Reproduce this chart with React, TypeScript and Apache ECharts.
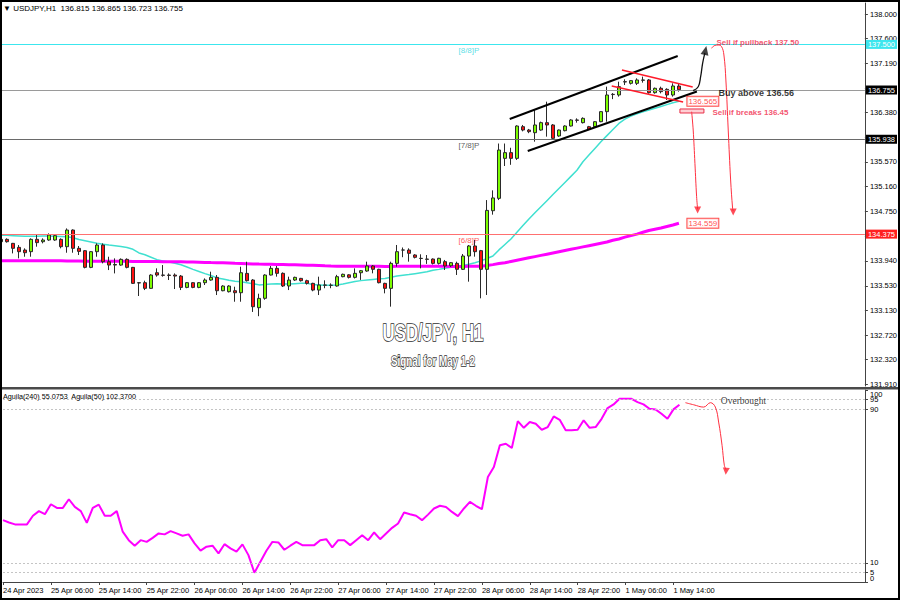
import React, { useEffect, useRef } from 'react';
import * as echarts from 'echarts';

const FONT = '"Liberation Sans", Arial, Helvetica, sans-serif';

const symbolName = 'USDJPY,H1';
const titleText = 'USD/JPY, H1';
const subtitleText = 'Signal for May 1-2';
const indicatorLegend = 'Aguila(240) 55.0753  Aguila(50) 102.3700';

const timeLabels = ['24 Apr 2023', '25 Apr 06:00', '25 Apr 14:00', '25 Apr 22:00', '26 Apr 06:00', '26 Apr 14:00', '26 Apr 22:00', '27 Apr 06:00', '27 Apr 14:00', '27 Apr 22:00', '28 Apr 06:00', '28 Apr 14:00', '28 Apr 22:00', '1 May 06:00', '1 May 14:00'];
const barsPerLabel = 8;
const priceTicks = [138.0, 137.6, 137.19, 136.78, 136.38, 135.97, 135.57, 135.16, 134.75, 134.34, 133.94, 133.53, 133.13, 132.72, 132.32, 131.91];
const indicatorTicks = [0, 5, 10, 90, 95, 100];
const indicatorLevels = [95, 90, 10, 5];

// [open, close, low, high]
const ohlc: number[][] = [
  [134.255, 134.294, 134.24, 134.31], [134.294, 134.255, 134.24, 134.31], [134.228, 134.146, 134.063, 134.235], [134.162, 134.091, 133.981, 134.2],
  [134.118, 134.074, 134.008, 134.146], [134.091, 134.294, 134.008, 134.31], [134.294, 134.24, 134.173, 134.365], [134.255, 134.283, 134.228, 134.31],
  [134.283, 134.365, 134.27, 134.392], [134.283, 134.354, 134.27, 134.38], [134.294, 134.173, 134.146, 134.31], [134.173, 134.447, 134.074, 134.474],
  [134.447, 134.146, 134.074, 134.458], [134.146, 134.096, 134.036, 134.184], [134.107, 133.833, 133.817, 134.118], [133.833, 134.091, 133.82, 134.1],
  [134.091, 134.2, 134.008, 134.228], [134.2, 133.926, 133.899, 134.228], [133.926, 133.871, 133.789, 134.008], [133.88, 133.871, 133.734, 133.981],
  [133.871, 133.965, 133.86, 133.98], [133.965, 133.833, 133.817, 133.981], [133.833, 133.57, 133.56, 133.84], [133.581, 133.576, 133.362, 133.59],
  [133.581, 133.488, 133.46, 133.614], [133.488, 133.707, 133.48, 133.72], [133.745, 133.707, 133.68, 133.817], [133.707, 133.702, 133.68, 133.871],
  [133.707, 133.7, 133.625, 133.734], [133.707, 133.69, 133.477, 133.734], [133.69, 133.504, 133.46, 133.707], [133.504, 133.581, 133.49, 133.59],
  [133.581, 133.504, 133.49, 133.59], [133.504, 133.581, 133.49, 133.59], [133.581, 133.625, 133.543, 133.652], [133.625, 133.669, 133.614, 133.762],
  [133.669, 133.449, 133.378, 133.707], [133.449, 133.526, 133.44, 133.54], [133.433, 133.526, 133.42, 133.54], [133.449, 133.416, 133.268, 133.515],
  [133.416, 133.745, 133.268, 133.844], [133.734, 133.614, 133.6, 133.926], [133.625, 133.186, 133.1, 133.64], [133.17, 133.323, 133.03, 133.4],
  [133.324, 133.707, 133.3, 133.72], [133.707, 133.817, 133.7, 133.856], [133.817, 133.735, 133.68, 133.856], [133.735, 133.527, 133.51, 133.75],
  [133.527, 133.625, 133.46, 133.68], [133.625, 133.669, 133.61, 133.68], [133.652, 133.614, 133.6, 133.66], [133.614, 133.57, 133.55, 133.63],
  [133.57, 133.46, 133.44, 133.58], [133.46, 133.543, 133.378, 133.68], [133.543, 133.54, 133.49, 133.62], [133.54, 133.537, 133.49, 133.57],
  [133.527, 133.68, 133.516, 133.71], [133.68, 133.719, 133.67, 133.73], [133.71, 133.669, 133.65, 133.72], [133.669, 133.735, 133.65, 133.817],
  [133.745, 133.778, 133.627, 133.79], [133.773, 133.856, 133.76, 133.927], [133.856, 133.801, 133.735, 133.872], [133.801, 133.581, 133.57, 133.81],
  [133.57, 133.488, 133.406, 133.58], [133.488, 133.899, 133.187, 133.927], [133.899, 134.091, 133.845, 134.201], [134.118, 134.118, 134.0, 134.16],
  [134.118, 134.064, 133.927, 134.146], [134.037, 133.998, 133.98, 134.05], [133.982, 133.979, 133.817, 134.048], [133.97, 133.965, 133.89, 134.036],
  [133.97, 133.899, 133.88, 133.98], [133.899, 133.982, 133.88, 133.99], [133.927, 133.856, 133.79, 133.955], [133.86, 133.91, 133.84, 133.92],
  [133.899, 133.801, 133.708, 133.927], [133.801, 134.02, 133.79, 134.053], [134.02, 134.185, 133.598, 134.201], [134.185, 134.091, 134.009, 134.283],
  [134.108, 133.801, 133.324, 134.12], [133.801, 134.77, 133.379, 134.94], [134.765, 134.975, 134.7, 135.1], [134.968, 135.763, 134.94, 135.87],
  [135.626, 135.72, 135.5, 135.87], [135.72, 135.626, 135.52, 135.8], [135.626, 136.158, 135.6, 136.17], [136.147, 136.092, 136.07, 136.175],
  [136.092, 136.065, 136.04, 136.11], [136.048, 136.175, 135.9, 136.421], [136.092, 136.213, 136.08, 136.23], [136.213, 136.175, 135.983, 136.558],
  [136.175, 135.955, 135.94, 136.19], [135.994, 136.092, 135.98, 136.1], [136.081, 136.158, 136.07, 136.17], [136.158, 136.257, 136.15, 136.27],
  [136.257, 136.252, 136.213, 136.284], [136.213, 136.284, 136.2, 136.3], [136.147, 136.103, 136.09, 136.16], [136.147, 136.229, 136.14, 136.24],
  [136.229, 136.394, 136.22, 136.4], [136.394, 136.668, 136.229, 136.805], [136.679, 136.675, 136.6, 136.7], [136.668, 136.805, 136.641, 136.887],
  [136.887, 136.882, 136.832, 136.926], [136.86, 136.904, 136.84, 136.91], [136.86, 136.915, 136.832, 136.942], [136.915, 136.91, 136.871, 136.97],
  [136.915, 136.706, 136.69, 136.93], [136.706, 136.778, 136.69, 136.79], [136.778, 136.723, 136.695, 136.805], [136.761, 136.668, 136.586, 136.778],
  [136.668, 136.816, 136.641, 136.86], [136.815, 136.755, 136.723, 136.865],
];

const maFast = [
  134.36, 134.36, 134.355, 134.35, 134.345, 134.345, 134.345, 134.35, 134.35, 134.345,
  134.34, 134.335, 134.32, 134.29, 134.27, 134.25, 134.23, 134.215, 134.2, 134.19,
  134.175, 134.16, 134.13, 134.07, 134.04, 134.0, 133.96, 133.94, 133.92, 133.9,
  133.875, 133.84, 133.8, 133.765, 133.73, 133.7, 133.66, 133.64, 133.62, 133.605,
  133.595, 133.58, 133.565, 133.545, 133.55, 133.56, 133.565, 133.56, 133.56, 133.565,
  133.57, 133.57, 133.55, 133.545, 133.54, 133.54, 133.545, 133.56, 133.58, 133.6,
  133.615, 133.625, 133.635, 133.645, 133.65, 133.67, 133.69, 133.705, 133.715, 133.73,
  133.745, 133.76, 133.785, 133.8, 133.82, 133.835, 133.845, 133.865, 133.885, 133.91,
  133.94, 133.98, 134.02, 134.12, 134.21, 134.3, 134.41, 134.52, 134.63, 134.73,
  134.83, 134.93, 135.03, 135.13, 135.23, 135.33, 135.43, 135.57, 135.68, 135.79,
  135.9, 136.0, 136.1, 136.2, 136.27, 136.32, 136.36, 136.39, 136.42, 136.45,
  136.48, 136.51, 136.54, 136.565,
];

const maSlow = [
  133.94, 133.94, 133.94, 133.94, 133.94, 133.94, 133.94, 133.94, 133.94, 133.94,
  133.94, 133.938, 133.937, 133.936, 133.935, 133.935, 133.934, 133.934, 133.933, 133.933,
  133.932, 133.932, 133.931, 133.93, 133.93, 133.929, 133.928, 133.927, 133.926, 133.925,
  133.924, 133.922, 133.92, 133.918, 133.915, 133.912, 133.91, 133.907, 133.904, 133.9,
  133.897, 133.894, 133.89, 133.887, 133.885, 133.883, 133.881, 133.879, 133.877, 133.875,
  133.872, 133.869, 133.866, 133.862, 133.858, 133.855, 133.853, 133.852, 133.852, 133.851,
  133.851, 133.85, 133.85, 133.85, 133.849, 133.849, 133.85, 133.851, 133.851, 133.851,
  133.851, 133.851, 133.85, 133.85, 133.85, 133.849, 133.849, 133.849, 133.85, 133.851,
  133.852, 133.865, 133.878, 133.895, 133.91, 133.93, 133.95, 133.97, 133.99, 134.01,
  134.03, 134.05, 134.07, 134.09, 134.11, 134.13, 134.15, 134.17, 134.19, 134.21,
  134.23, 134.25, 134.28, 134.3, 134.33, 134.355, 134.38, 134.41, 134.44, 134.46,
  134.48, 134.505, 134.53, 134.559,
];

const aguila = [
  32.2, 31.0, 30.0, 30.0, 30.0, 34.5, 36.9, 35.3, 40.5, 38.6,
  38.6, 43.1, 39.1, 36.9, 30.8, 38.6, 40.3, 34.5, 34.5, 36.9,
  26.2, 21.8, 18.9, 21.8, 20.9, 23.0, 25.3, 24.8, 26.5, 25.3,
  24.1, 24.8, 20.1, 16.3, 18.4, 18.9, 14.9, 19.7, 17.5, 15.8,
  19.6, 14.0, 4.8, 10.6, 16.3, 20.9, 20.6, 16.8, 18.9, 20.9,
  19.2, 19.2, 19.2, 21.8, 22.3, 18.0, 21.8, 21.8, 19.2, 21.8,
  24.4, 21.8, 25.8, 22.3, 25.3, 28.2, 30.5, 36.2, 35.3, 34.5,
  32.2, 35.1, 38.3, 39.7, 39.1, 36.5, 34.3, 38.3, 41.7, 39.7,
  37.9, 54.7, 59.9, 71.2, 72.0, 69.8, 83.8, 80.3, 83.3, 82.4,
  79.3, 80.7, 86.2, 84.5, 79.0, 79.0, 79.3, 84.2, 80.3, 80.7,
  85.0, 90.6, 92.5, 95.4, 95.4, 95.4, 93.7, 92.5, 90.2, 89.9,
  87.6, 85.0, 89.9, 92.3,
];

// horizontal levels: 8/8 Murrey, current bid, 7/8 Murrey, 6/8 Murrey
const levelValues = [137.5, 136.755, 135.938, 134.375];
const levelNames = ['[8/8]P', '', '[7/8]P', '[6/8]P'];

// hand-drawn analysis marks, in (bar index, price)
const channelUpper = [[84.8, 136.273], [112.8, 137.309]];
const channelLower = [[87.8, 135.747], [116.0, 136.725]];
const flagUpper = [[103.5, 137.079], [115.3, 136.799]];
const flagLower = [[101.8, 136.816], [113.7, 136.553]];
const buyPath = [[115.38, 136.739], [116.22, 136.804], [116.62, 136.969], [116.95, 137.189], [117.33, 137.36]];
const buyArrow = [117.42, 137.4];
const sellBreakPath = [[115.12, 136.393], [115.38, 136.092], [115.67, 135.544], [115.95, 134.995], [116.12, 134.79]];
const sellBreakArrow = [116.12, 134.776];
const sellPullbackPath = [[118.45, 137.436], [118.88, 137.479], [119.55, 137.49], [120.12, 137.462], [120.5, 137.326], [120.83, 136.914], [121.22, 136.092], [121.62, 135.27], [121.95, 134.804], [122.05, 134.76]];
const sellPullbackArrow = [122.05, 134.743];
const orderZone = [[113.17, 136.438], [117.17, 136.372]];
const overboughtPath = [[114, 93.4], [115.38, 92.3], [117.05, 91.1], [118.17, 93.4], [119, 91.1], [119.55, 83.3], [120.12, 71.2], [120.5, 60.8], [120.78, 58.5]];
const overboughtArrow = [120.78, 57.7];
const tagIndex = 114.33;
const murreyLabelIndex = 76.17;
const notes = {
  sellPullback: { text: 'Sell if pullback 137.50', at: [119.17, 137.531] },
  buyAbove: { text: 'Buy above 136.56', at: [119.5, 136.701] },
  sellBreaks: { text: 'Sell if breaks 136.45', at: [118.5, 136.372] },
  overbought: { text: 'Overbought', at: [119.83, 94.5] },
};

const levelColors = ['#3ce6ee', '#9a9a9a', '#6a6a6a', '#ff7070'];
const levelBoxes = ['#3ce6ee', '#000000', '#000000', '#ff2020'];
const murreyColors = ['#33d6e0', '#000', '#333333', '#ff3030'];

function buildOption() {
  const last = ohlc[ohlc.length - 1];
  const header = `▼ ${symbolName}  ${last[0].toFixed(3)} ${last[3].toFixed(3)} ${last[2].toFixed(3)} ${last[1].toFixed(3)}`;
  const timeTicks = timeLabels.map((_, k) => k * barsPerLabel);
  // MT4 hides an axis price that sits under a level's price tag
  const priceLabel = (v: number) => (levelValues.some((l) => Math.abs(l - v) < 0.06) ? '' : v.toFixed(3));

  const line = (data: number[][], color: string, width: number, extra: any = {}) => ({
    type: 'line', xAxisIndex: 0, yAxisIndex: 0, data, showSymbol: false, symbol: 'none', silent: true,
    lineStyle: { color, width }, z: 5, ...extra,
  });
  const note = (text: string, at: number[], color: string, size: number, weight: string, family = FONT, grid = 0, offset = [0, 0]) => ({
    type: 'scatter', xAxisIndex: grid, yAxisIndex: grid, data: [at], symbolSize: 1, silent: true, z: 7,
    itemStyle: { color: 'rgba(0,0,0,0)' },
    label: { show: true, position: 'right', distance: 0, formatter: text, color, fontSize: size, fontWeight: weight, fontFamily: family, offset },
  });
  const arrow = (at: number[], rotate: number, color: string, size: number[], grid = 0) => ({
    type: 'scatter', xAxisIndex: grid, yAxisIndex: grid, data: [at], symbol: 'triangle', symbolSize: size,
    symbolRotate: rotate, itemStyle: { color }, silent: true, z: 7,
  });
  const tag = (value: number) => ({
    type: 'scatter', xAxisIndex: 0, yAxisIndex: 0, data: [[tagIndex, value]], symbolSize: 1, silent: true, z: 7,
    itemStyle: { color: 'rgba(0,0,0,0)' },
    label: {
      show: true, position: 'right', distance: 0, formatter: (p: any) => p.value[1].toFixed(3),
      color: '#ff2020', fontSize: 8, fontFamily: FONT, backgroundColor: '#fff', borderColor: '#ff2020', borderWidth: 1, padding: [1, 1, 0, 1],
    },
  });
  // the indicator scale labels sit very close together, so they are split over overlaid axes
  const indicatorLabelAxis = (values: number[], first: boolean, edge: boolean) => ({
    type: 'value', gridIndex: 1, position: 'right', min: 0, max: 100,
    axisLine: { show: first, onZero: false, lineStyle: { color: '#444' } },
    axisTick: { show: first, length: 3, customValues: indicatorTicks, lineStyle: { color: '#444' } },
    axisLabel: {
      customValues: values, formatter: (v: number) => String(v), fontSize: 7.5, color: '#000', margin: 5, fontFamily: FONT,
      showMinLabel: true, showMaxLabel: true, hideOverlap: false,
      ...(edge ? { verticalAlignMaxLabel: 'top', verticalAlignMinLabel: 'bottom' } : {}),
    },
    splitLine: { show: false },
  });
  const pairs = [
    [indicatorTicks[2], indicatorTicks[3]],
    [indicatorTicks[1], indicatorTicks[4]],
    [indicatorTicks[0], indicatorTicks[5]],
  ];

  return {
    animation: false,
    backgroundColor: '#ffffff',
    textStyle: { fontFamily: FONT },
    grid: [
      { left: 1, top: 3, width: 864, height: 383 },
      { left: 1, top: 390, width: 864, height: 192 },
    ],
    xAxis: [
      { type: 'value', gridIndex: 0, min: 0, max: 144, show: false, splitLine: { show: false } },
      {
        type: 'value', gridIndex: 1, min: 0, max: 144,
        axisLine: { show: true, onZero: false, lineStyle: { color: '#444', width: 1 } },
        axisTick: { show: true, length: 3, customValues: timeTicks, lineStyle: { color: '#444' } },
        axisLabel: {
          customValues: timeTicks, align: 'left', fontSize: 7.5, color: '#000', margin: 4, fontFamily: FONT, hideOverlap: false,
          formatter: (v: number) => timeLabels[Math.round(v / barsPerLabel)] ?? '',
        },
        splitLine: { show: false },
      },
    ],
    yAxis: [
      {
        type: 'value', gridIndex: 0, position: 'right', min: 131.882, max: 138.181,
        axisLine: { show: true, onZero: false, lineStyle: { color: '#444' } },
        axisTick: { show: true, length: 3, customValues: priceTicks, lineStyle: { color: '#444' } },
        axisLabel: { customValues: priceTicks, formatter: priceLabel, fontSize: 7.5, color: '#000', margin: 5, fontFamily: FONT, hideOverlap: false },
        splitLine: { show: false },
      },
      indicatorLabelAxis(pairs[0], true, false),
      indicatorLabelAxis(pairs[1], false, false),
      indicatorLabelAxis(pairs[2], false, true),
    ],
    series: [
      {
        type: 'candlestick', xAxisIndex: 0, yAxisIndex: 0, silent: true, z: 4,
        data: ohlc.map((c, i) => [i, c[0], c[1], c[2], c[3]]),
        encode: { x: 0, y: [1, 2, 3, 4] },
        barWidth: 4,
        itemStyle: { color: '#7cfc00', color0: '#ff1010', borderColor: '#2a2a2a', borderColor0: '#2a2a2a', borderWidth: 1 },
        markLine: {
          silent: true, symbol: ['none', 'none'], animation: false,
          data: levelValues.map((v, k) => ({
            yAxis: v,
            lineStyle: { color: levelColors[k], width: 1, type: 'solid' },
            label: {
              show: true, position: 'end', distance: 1, formatter: v.toFixed(3), color: '#fff', backgroundColor: levelBoxes[k],
              padding: [1, 2, 0, 2], fontSize: 7.5, fontFamily: FONT,
            },
          })),
        },
        markArea: {
          silent: true,
          itemStyle: { color: '#ffcfd4', borderColor: '#e83048', borderWidth: 1 },
          data: [[{ coord: orderZone[0] }, { coord: orderZone[1] }]],
        },
      },
      line(maFast.map((v, i) => [i, v]), '#40e0d0', 1.5, { z: 3 }),
      line(maSlow.map((v, i) => [i, v]), '#ff00ff', 3, { z: 3 }),
      line(channelUpper, '#000000', 2),
      line(channelLower, '#000000', 2),
      line(flagUpper, '#ff1a2a', 1.5),
      line(flagLower, '#ff1a2a', 1.5),
      line(buyPath, '#111111', 1.3, { smooth: 0.4 }),
      arrow(buyArrow, -12, '#111111', [8, 9]),
      line(sellBreakPath, '#ff3040', 1, { smooth: 0.4 }),
      arrow(sellBreakArrow, 180, '#ff2030', [7, 7]),
      line(sellPullbackPath, '#ff3040', 1, { smooth: 0.4 }),
      arrow(sellPullbackArrow, 180, '#ff2030', [7, 7]),
      tag(maFast[maFast.length - 1]),
      tag(maSlow[maSlow.length - 1]),
      ...levelValues.map((v, k) => levelNames[k] ? note(levelNames[k], [murreyLabelIndex, v], murreyColors[k], 8, 'normal', FONT, 0, [0, 6]) : null).filter(Boolean),
      note(notes.sellPullback.text, notes.sellPullback.at, '#f0284a', 8, 'bold'),
      note(notes.buyAbove.text, notes.buyAbove.at, '#000000', 9, 'bold'),
      note(notes.sellBreaks.text, notes.sellBreaks.at, '#f0284a', 8, 'bold'),
      {
        type: 'line', xAxisIndex: 1, yAxisIndex: 1, data: aguila.map((v, i) => [i, v]), showSymbol: false, symbol: 'none', silent: true,
        lineStyle: { color: '#ff00ff', width: 2 }, z: 4,
        markLine: {
          silent: true, symbol: ['none', 'none'], animation: false, label: { show: false },
          lineStyle: { color: '#c4c4c4', type: [2, 2], width: 1 },
          data: indicatorLevels.map((v) => ({ yAxis: v })),
        },
      },
      { ...line(overboughtPath, '#ff3040', 1, { smooth: 0.4 }), xAxisIndex: 1, yAxisIndex: 1 },
      arrow(overboughtArrow, 175, '#ff2030', [7, 7], 1),
      note(notes.overbought.text, notes.overbought.at, '#000', 9.5, 'normal', '"Liberation Serif", "Times New Roman", serif', 1),
    ],
    graphic: [
      { type: 'text', x: 3, y: 8, z: 10, style: { text: header, fontSize: 8, fontFamily: FONT, fill: '#000', verticalAlign: 'middle', textVerticalAlign: 'middle' } },
      { type: 'text', x: 3, y: 396, z: 10, style: { text: indicatorLegend, fontSize: 7.2, fontFamily: FONT, fill: '#000', verticalAlign: 'middle', textVerticalAlign: 'middle' } },
      {
        type: 'text', x: 433, y: 332, scaleX: 0.7, z: 10,
        style: { text: titleText, fontSize: 24, fontWeight: 'bold', fontFamily: FONT, fill: '#ffffff', stroke: '#2e2e2e', lineWidth: 1.6, align: 'center', textAlign: 'center', verticalAlign: 'middle', textVerticalAlign: 'middle' },
      },
      {
        type: 'text', x: 433, y: 361, scaleX: 0.7, z: 10,
        style: { text: subtitleText, fontSize: 14, fontWeight: 'bold', fontFamily: FONT, fill: '#ffffff', stroke: '#2e2e2e', lineWidth: 1.4, align: 'center', textAlign: 'center', verticalAlign: 'middle', textVerticalAlign: 'middle' },
      },
      { type: 'rect', z: 20, shape: { x: 0, y: 387, width: 900, height: 2.5 }, style: { fill: '#4a4a4a' } },
      { type: 'rect', z: 20, shape: { x: 1, y: 1, width: 898, height: 598 }, style: { fill: 'none', stroke: '#000', lineWidth: 2 } },
    ],
  };
}

export default function App() {
  const ref = useRef<HTMLDivElement>(null);
  useEffect(() => {
    if (!ref.current) return;
    const chart = echarts.init(ref.current, undefined, { renderer: 'svg' });
    chart.setOption(buildOption() as any);
    return () => chart.dispose();
  }, []);
  return <div ref={ref} style={{ position: 'fixed', left: 0, top: 0, width: 900, height: 600, background: '#fff' }} />;
}
